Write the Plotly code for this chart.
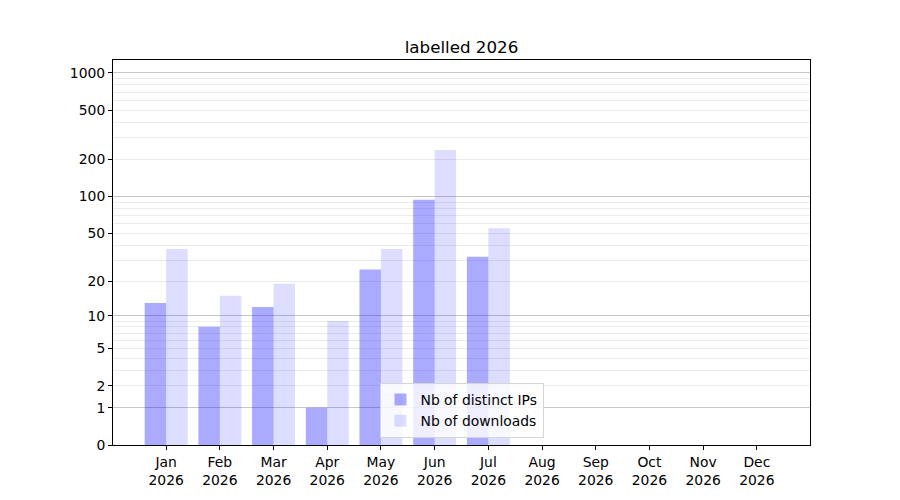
import plotly.graph_objects as go

months = ["Jan", "Feb", "Mar", "Apr", "May", "Jun", "Jul", "Aug", "Sep", "Oct", "Nov", "Dec"]
year = "2026"
distinct_ips = [13, 8, 12, 1, 25, 94, 32, 0, 0, 0, 0, 0]
downloads = [37, 15, 19, 9, 37, 238, 55, 0, 0, 0, 0, 0]

# y axis is a log(1 + x) scale
y_tick_values = [0, 1, 2, 5, 10, 20, 50, 100, 200, 500, 1000]
y_major_grid = [1, 10, 100, 1000]
y_minor_grid = [2, 3, 4, 5, 6, 7, 8, 9, 20, 30, 40, 50, 60, 70, 80, 90,
                200, 300, 400, 500, 600, 700, 800, 900]

xs = list(range(len(months)))
ticktext = [f"{m}<br>{year}" for m in months]

fig = go.Figure()
fig.add_trace(go.Bar(
    x=xs, y=distinct_ips, base=1, width=0.4, offset=-0.4,
    name="Nb of distinct IPs", marker=dict(color="rgba(0,0,255,0.333)", line=dict(width=0)),
))
fig.add_trace(go.Bar(
    x=xs, y=downloads, base=1, width=0.4, offset=0,
    name="Nb of downloads", marker=dict(color="rgba(0,0,255,0.133)", line=dict(width=0)),
))
# invisible trace to carry the decade grid axis
fig.add_trace(go.Scatter(x=[0], y=[2], yaxis="y2", mode="markers",
                         marker=dict(opacity=0), showlegend=False, hoverinfo="skip"))

top = 3.105
font = "DejaVu Sans, sans-serif"
fig.update_layout(
    width=892, height=492,
    margin=dict(l=104.5, r=90, t=52, b=55),
    paper_bgcolor="white", plot_bgcolor="white",
    barmode="overlay",
    font=dict(family=font, size=13.9, color="black"),
    title=dict(text="labelled 2026", x=0.5, xanchor="center", xref="paper",
               y=1, yref="paper", yanchor="bottom", pad=dict(b=7),
               font=dict(family=font, size=16.7, color="black")),
    showlegend=True,
    legend=dict(x=0.5, xanchor="center", y=0.018, yanchor="bottom",
                bgcolor="rgba(255,255,255,0.8)", bordercolor="#d5d5d5", borderwidth=1,
                font=dict(family=font, size=13.9), tracegroupgap=0,
                itemwidth=30),
    xaxis=dict(
        range=[-0.99, 11.99], tickmode="array", tickvals=xs, ticktext=ticktext,
        showgrid=False, zeroline=False, showline=True, mirror=True,
        linecolor="black", linewidth=1, ticks="outside", ticklen=4, tickcolor="black",
    ),
    yaxis=dict(
        type="log", range=[0, top], tickmode="array",
        tickvals=[v + 1 for v in y_tick_values], ticktext=[str(v) for v in y_tick_values],
        showgrid=False, zeroline=False, showline=True, mirror=True,
        linecolor="black", linewidth=1, ticks="outside", ticklen=4, tickcolor="black",
        minor=dict(tickmode="array", tickvals=[v + 1 for v in y_minor_grid],
                   showgrid=True, gridcolor="#ececec", gridwidth=0.8, ticks=""),
    ),
    yaxis2=dict(
        type="log", range=[0, top], overlaying="y", side="left",
        tickmode="array", tickvals=[v + 1 for v in y_major_grid],
        showticklabels=False, ticks="", showgrid=True, gridcolor="#c8c8c8",
        gridwidth=0.8, zeroline=False, showline=False,
    ),
)

fig.write_html("out.html")
